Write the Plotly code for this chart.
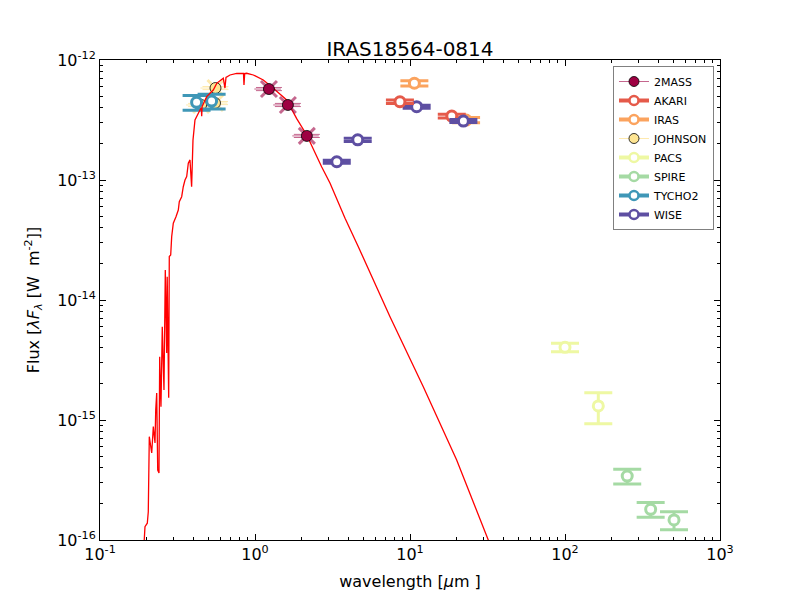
import plotly.graph_objects as go

# ---------------- data ----------------
model_wl = [0.190, 0.1931, 0.1951, 0.2019, 0.2049, 0.2080, 0.2156, 0.2208, 0.2264, 0.2288,
            0.2322, 0.2357, 0.2402, 0.2427, 0.2474, 0.2522, 0.2587, 0.2638, 0.2693, 0.2714,
            0.2774, 0.2799, 0.2858, 0.2901, 0.2971, 0.3092, 0.3200, 0.3248, 0.3365, 0.3446,
            0.3535, 0.3625, 0.3713, 0.3807, 0.3900, 0.3980, 0.4100, 0.4416, 0.4500, 0.4530,
            0.4560, 0.4880, 0.5380, 0.5660, 0.6245, 0.6400, 0.6500, 0.6900, 0.7620, 0.8430,
            0.8490, 0.8580, 0.8830, 0.9750, 1.131, 1.312, 1.601, 1.858, 2.156, 2.69,
            3.05, 3.81, 4.31, 4.64, 7.43, 12.18, 20.0, 32.0, 36.0]
model_flux = [7e-17, 1.01e-16, 1.29e-16, 1.38e-16, 1.72e-16, 7.26e-16, 5.31e-16, 8.80e-16, 6.43e-16, 1.21e-15,
              1.68e-15, 3.83e-16, 3.61e-16, 3.37e-15, 1.29e-15, 5.99e-15, 1.78e-15, 1.78e-14, 3.61e-15, 1.56e-14,
              1.53e-15, 2.30e-14, 2.37e-14, 3.37e-14, 4.36e-14, 4.95e-14, 5.62e-14, 6.59e-14, 7.26e-14, 8.79e-14,
              1.00e-13, 1.07e-13, 1.38e-13, 1.47e-13, 8.8e-14, 2.15e-13, 3.16e-13, 3.83e-13, 4.00e-13, 3.40e-13,
              4.10e-13, 4.95e-13, 5.62e-13, 6.39e-13, 7.04e-13, 5.84e-13, 7.15e-13, 7.50e-13, 7.75e-13, 7.72e-13,
              6.19e-13, 7.72e-13, 7.75e-13, 7.50e-13, 6.81e-13, 5.81e-13, 4.64e-13, 3.25e-13, 2.37e-13, 1.29e-13,
              9.39e-14, 4.80e-14, 3.48e-14, 2.78e-14, 7.26e-15, 1.89e-15, 4.64e-16, 1.0e-16, 6.8e-17]

mass2_wl = [1.23, 1.63, 2.16]
mass2_flux = [5.73e-13, 4.22e-13, 2.33e-13]
mass2_xerr = [0.24, 0.32, 0.42]

johnson_wl = [0.449, 0.552, 0.556]
johnson_flux = [4.22e-13, 4.38e-13, 5.84e-13]

tycho_wl = [0.42, 0.525]
tycho_flux = [4.44e-13, 4.55e-13]
tycho_relerr = [0.14, 0.14]

akari_wl = [8.61, 18.6]
akari_flux = [4.49e-13, 3.41e-13]
akari_relerr = [0.035, 0.035]

iras_wl = [10.67, 23.0]
iras_flux = [6.40e-13, 3.16e-13]
iras_relerr = [0.05, 0.05]

wise_wl = [3.37, 4.60, 11.04, 22.1]
wise_flux = [1.42e-13, 2.16e-13, 4.08e-13, 3.10e-13]
wise_relerr = [0.03, 0.03, 0.03, 0.03]

pacs_wl = [100.0, 164.0]
pacs_flux = [4.03e-15, 1.31e-15]
pacs_relerr = [0.08, 0.29]

spire_wl = [252.0, 357.0, 505.0]
spire_flux = [3.41e-16, 1.80e-16, 1.47e-16]
spire_relerr = [0.14, 0.14, 0.17]

legend_order = ["2MASS", "AKARI", "IRAS", "JOHNSON", "PACS", "SPIRE", "TYCHO2", "WISE"]
colors = {"2MASS": "#9e0142", "AKARI": "#e55a4a", "IRAS": "#fba35e", "JOHNSON": "#fee593",
          "PACS": "#eef8a3", "SPIRE": "#a5daa4", "TYCHO2": "#3f97b7", "WISE": "#5e4fa2"}

xtick_vals = [0.1, 1, 10, 100, 1000]
xtick_text = ["10<sup>-1</sup>", "10<sup>0</sup>", "10<sup>1</sup>", "10<sup>2</sup>", "10<sup>3</sup>"]
ytick_vals = [1e-16, 1e-15, 1e-14, 1e-13, 1e-12]
ytick_text = ["10<sup>-16</sup>", "10<sup>-15</sup>", "10<sup>-14</sup>", "10<sup>-13</sup>", "10<sup>-12</sup>"]

FONT = "DejaVu Sans"
fig = go.Figure()


def open_points(name, wl, flux, rel):
    c = colors[name]
    fig.add_trace(go.Scatter(
        x=wl, y=flux, mode="markers", showlegend=False, name=name,
        marker=dict(symbol="circle", size=10, color="white", line=dict(color=c, width=3)),
        error_y=dict(type="data", array=[f * r for f, r in zip(flux, rel)],
                     color=c, thickness=3, width=14),
    ))


# JOHNSON below TYCHO2, model line above both
jc = colors["JOHNSON"]
jl = "rgba(254,224,139,0.7)"
fig.add_trace(go.Scatter(
    x=johnson_wl, y=johnson_flux, mode="markers", showlegend=False,
    marker=dict(symbol="x-thin", size=16, line=dict(color=jl, width=3)),
    error_y=dict(type="percent", value=3, color=jl, thickness=1, width=13),
    error_x=dict(type="percent", value=20, color=jl, thickness=1, width=0),
))
fig.add_trace(go.Scatter(
    x=johnson_wl, y=johnson_flux, mode="markers", showlegend=False,
    marker=dict(symbol="circle", size=11, color=jc, line=dict(color="black", width=0.8)),
))
open_points("TYCHO2", tycho_wl, tycho_flux, tycho_relerr)

# model
fig.add_trace(go.Scatter(x=model_wl, y=model_flux, mode="lines", showlegend=False,
                         line=dict(color="red", width=1.3)))

# 2MASS
mc = "rgba(158,1,66,0.6)"
fig.add_trace(go.Scatter(
    x=mass2_wl, y=mass2_flux, mode="markers", showlegend=False,
    marker=dict(symbol="x-thin", size=16, line=dict(color=mc, width=3)),
    error_y=dict(type="percent", value=3, color=mc, thickness=1, width=13),
    error_x=dict(type="data", array=mass2_xerr, color=mc, thickness=1, width=0),
))
fig.add_trace(go.Scatter(
    x=mass2_wl, y=mass2_flux, mode="markers", showlegend=False,
    marker=dict(symbol="circle", size=11, color=colors["2MASS"], line=dict(color="black", width=0.8)),
))

open_points("WISE", wise_wl[:3], wise_flux[:3], wise_relerr[:3])
open_points("IRAS", iras_wl, iras_flux, iras_relerr)
open_points("AKARI", akari_wl, akari_flux, akari_relerr)
# WISE 22 drawn over IRAS 25 as in the reference
open_points("WISE", wise_wl[3:], wise_flux[3:], wise_relerr[3:])
open_points("PACS", pacs_wl, pacs_flux, pacs_relerr)
open_points("SPIRE", spire_wl, spire_flux, spire_relerr)

# legend entries
for name in legend_order:
    c = colors[name]
    if name in ("2MASS", "JOHNSON"):
        lc = mc if name == "2MASS" else jl
        fig.add_trace(go.Scatter(
            x=[None], y=[None], mode="lines+markers", name=name,
            line=dict(color=lc, width=1),
            marker=dict(symbol="circle", size=10, color=c, line=dict(color="black", width=0.8)),
        ))
    else:
        fig.add_trace(go.Scatter(
            x=[None], y=[None], mode="lines+markers", name=name,
            line=dict(color=c, width=4),
            marker=dict(symbol="circle", size=9, color="white", line=dict(color=c, width=2.5)),
        ))

axis_common = dict(
    type="log", showgrid=False, zeroline=False, showline=True, linecolor="black", linewidth=1,
    mirror="allticks", ticks="inside", ticklen=6, tickwidth=1, tickcolor="black",
    tickfont=dict(family=FONT, size=16, color="black"), automargin=True,
    minor=dict(ticks="inside", ticklen=3, tickwidth=1, tickcolor="black", dtick="D1", showgrid=False),
)

# page body adds an 8px offset; figure is 792x592 so the axes land at 100..720 x 60..540
fig.update_layout(
    width=792, height=592,
    margin=dict(l=92, r=80, t=52, b=60),
    paper_bgcolor="white", plot_bgcolor="white",
    font=dict(family=FONT, size=16, color="black"),
    title=dict(text="IRAS18564-0814", x=0.5, xref="paper", xanchor="center",
               y=1, yref="paper", yanchor="bottom", pad=dict(b=4),
               font=dict(family=FONT, size=20, color="black")),
    xaxis=dict(axis_common, range=[-1, 3], tickvals=xtick_vals, ticktext=xtick_text,
               title=dict(text="wavelength [<i>μ</i>m ]", font=dict(family=FONT, size=16), standoff=12)),
    yaxis=dict(axis_common, range=[-16, -12], tickvals=ytick_vals, ticktext=ytick_text,
               title=dict(text="Flux [<i>λF</i><sub><i>λ</i></sub> [W  m<sup>-2</sup>]]",
                          font=dict(family=FONT, size=16), standoff=13)),
    legend=dict(x=0.9903, y=0.9875, xanchor="right", yanchor="top",
                bgcolor="white", bordercolor="#808080", borderwidth=1,
                font=dict(family=FONT, size=11, color="black"),
                itemwidth=30, tracegroupgap=0),
    showlegend=True,
)

fig.write_html("out.html")
